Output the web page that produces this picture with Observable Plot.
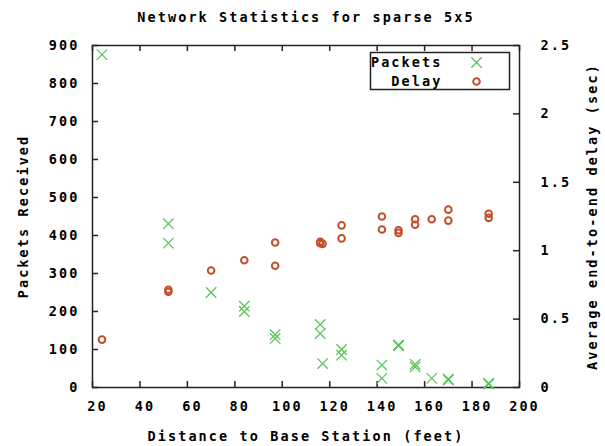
<!DOCTYPE html>
<html>
<head>
<meta charset="utf-8">
<script src="https://cdn.jsdelivr.net/npm/d3@7"></script>
<script src="https://cdn.jsdelivr.net/npm/@observablehq/plot@0.6"></script>
<style>
  html, body { margin: 0; padding: 0; background: #fff; }
</style>
</head>
<body>
<div id="chart"></div>
<script>
// ---- chart text ----
const title = "Network Statistics for sparse 5x5";
const xLabel = "Distance to Base Station (feet)";
const yLabel = "Packets Received";
const y2Label = "Average end-to-end delay (sec)";
const legendLabels = ["Packets", "Delay"];

// ---- tick values ----
const xTicks = [20, 40, 60, 80, 100, 120, 140, 160, 180, 200];
const yTicks = [0, 100, 200, 300, 400, 500, 600, 700, 800, 900];
const y2Ticks = [0, 0.5, 1, 1.5, 2, 2.5];

// ---- series: Packets received ----
const packetsDist = [24, 52, 52, 70, 84, 84, 97, 97, 116, 116, 117, 125, 125, 142, 142, 149, 149, 149, 156, 156, 163, 170, 170, 170, 187, 187, 187];
const packetsVal  = [876, 431, 380, 250, 214, 200, 139, 129, 166, 142, 63, 100, 85, 59, 24, 111, 110, 112, 61, 54, 24, 21, 22, 20, 10, 9, 11];

// ---- series: Delay (sec) ----
const delayDist = [24, 52, 52, 70, 84, 97, 97, 116, 116, 117, 125, 125, 142, 142, 149, 149, 156, 156, 163, 170, 170, 187, 187];
const delaySec  = [0.35, 0.715, 0.70, 0.855, 0.93, 1.06, 0.89, 1.065, 1.055, 1.05, 1.185, 1.09, 1.25, 1.155, 1.15, 1.13, 1.23, 1.19, 1.23, 1.30, 1.22, 1.27, 1.24];

// right axis (0..2.5 s) shares the left scale (0..900)
const y2Factor = 900 / 2.5;

const packets = packetsDist.map((x, i) => ({x, y: packetsVal[i]}));
const delay = delayDist.map((x, i) => ({x, sec: delaySec[i]}));

const green = "#55c255";
const red = "#c0502c";
const ink = "#222";

const W = 605, H = 446;
const mL = 92, mR = 86, mT = 45, mB = 59;
const fw = W - mL - mR, fh = H - mT - mB;
const tick = 6;

const chart = Plot.plot({
  width: W,
  height: H,
  marginLeft: mL,
  marginRight: mR,
  marginTop: mT,
  marginBottom: mB,
  x: {domain: [20, 200]},
  y: {domain: [0, 900]},
  style: {
    fontFamily: "'DejaVu Sans Mono', monospace",
    fontSize: "13.5px",
    fontWeight: "bold",
    letterSpacing: "2.1px",
    color: "#000",
    background: "#fff",
    overflow: "visible"
  },
  marks: [
    // inward ticks
    Plot.ruleX(xTicks, {x: d => d, insetTop: fh - tick, stroke: ink, strokeWidth: 1.5}),
    Plot.ruleX(xTicks, {x: d => d, insetBottom: fh - tick, stroke: ink, strokeWidth: 1.5}),
    Plot.ruleY(yTicks, {y: d => d, insetRight: fw - tick, stroke: ink, strokeWidth: 1.5}),
    Plot.ruleY(y2Ticks, {y: d => d * y2Factor, insetLeft: fw - tick, stroke: ink, strokeWidth: 1.5}),
    // tick labels
    Plot.axisX(xTicks, {tickSize: 0, tickPadding: 14, dx: 5, label: null, fill: "#000"}),
    Plot.axisY(yTicks, {anchor: "left", tickSize: 0, tickPadding: 13, label: null, fill: "#000"}),
    Plot.axisY(y2Ticks.map(d => d * y2Factor), {
      anchor: "right", tickSize: 0, tickPadding: 21, label: null, fill: "#000",
      tickFormat: d => String(+(d / y2Factor).toFixed(2))
    }),
    // frame
    Plot.frame({stroke: ink, strokeWidth: 1.5}),
    // data
    Plot.dot(packets, {x: "x", y: "y", symbol: "times", r: 4.8, stroke: green, strokeWidth: 1.2}),
    Plot.dot(delay, {x: "x", y: d => d.sec * y2Factor, symbol: "circle", r: 3.3, stroke: red, strokeWidth: 2, fill: "none"}),
    // legend
    Plot.frame({insetLeft: 278, insetRight: 10, insetTop: 7, insetBottom: 298, stroke: ink, strokeWidth: 1.5}),
    Plot.text([legendLabels[0]], {frameAnchor: "top-right", dx: -77, dy: 17, textAnchor: "end", lineAnchor: "middle", fill: "#000"}),
    Plot.text([legendLabels[1]], {frameAnchor: "top-right", dx: -77, dy: 36, textAnchor: "end", lineAnchor: "middle", fill: "#000"}),
    Plot.dot([legendLabels[0]], {frameAnchor: "top-right", dx: -43, dy: 17, symbol: "times", r: 4.8, stroke: green, strokeWidth: 1.2}),
    Plot.dot([legendLabels[1]], {frameAnchor: "top-right", dx: -43, dy: 36, symbol: "circle", r: 3.3, stroke: red, strokeWidth: 2, fill: "none"}),
    // titles
    Plot.text([title], {frameAnchor: "top", dy: -28, lineAnchor: "middle", textAnchor: "middle", fill: "#000"}),
    Plot.text([xLabel], {frameAnchor: "bottom", dy: 49, lineAnchor: "middle", textAnchor: "middle", fill: "#000"}),
    Plot.text([yLabel], {frameAnchor: "left", dx: -69, rotate: -90, lineAnchor: "middle", textAnchor: "middle", fill: "#000"}),
    Plot.text([y2Label], {frameAnchor: "right", dx: 73, rotate: -90, lineAnchor: "middle", textAnchor: "middle", fill: "#000"})
  ]
});

document.getElementById("chart").appendChild(chart);
</script>
</body>
</html>
